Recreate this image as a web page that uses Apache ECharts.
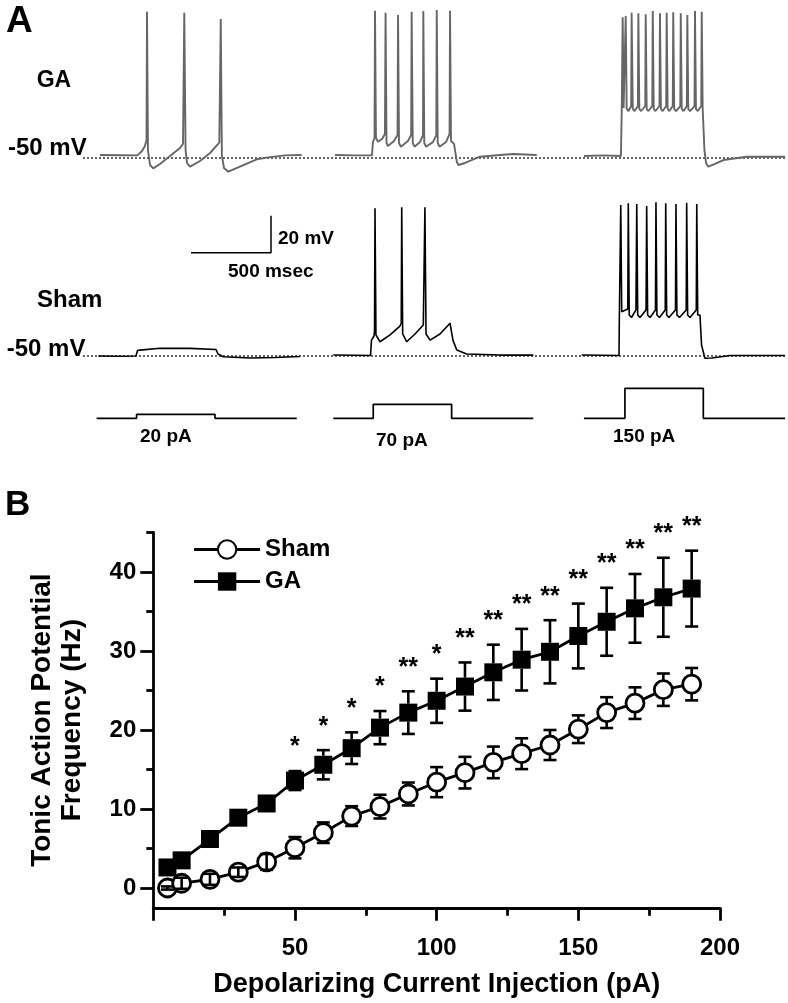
<!DOCTYPE html>
<html><head><meta charset="utf-8">
<script src="https://cdn.jsdelivr.net/npm/echarts@6/dist/echarts.min.js"></script>
<style>html,body{margin:0;padding:0;background:#fff}#c{width:788px;height:1003px}</style>
</head><body><div id="c"></div>
<script>
// ---------- Panel B data ----------
const currents = [5,10,20,30,40,50,60,70,80,90,100,110,120,130,140,150,160,170,180,190];
const shamMean = [0,0.6,1.1,2.0,3.3,5.1,7.0,9.1,10.3,11.9,13.4,14.6,15.9,17.0,18.1,20.1,22.2,23.4,25.1,25.8];
const shamSem  = [0.2,0.7,0.7,0.6,1.0,1.35,1.3,1.25,1.5,1.45,1.9,2.0,2.0,1.95,1.9,1.75,1.95,2.0,2.05,2.05];
const gaMean   = [2.6,3.5,6.2,8.9,10.7,13.6,15.6,17.7,20.3,22.2,23.7,25.5,27.3,28.9,29.9,31.9,33.7,35.4,36.8,37.9];
const gaSem    = [0.5,0.5,0.5,0.6,0.8,1.2,1.85,2.0,2.1,2.7,2.8,3.05,3.5,3.9,4.0,4.1,4.3,4.35,5.0,4.8];
const sigMarks = ['','','','','','*','*','*','*','**','*','**','**','**','**','**','**','**','**','**'];
const xTickLabels = [50,100,150,200];
const yTickLabels = [0,10,20,30,40];
const yMinorTicks = [5,15,25,35,45];

// ---------- Panel A data: [time ms, membrane potential mV] ----------
const gaTrace20 = [[106,-48.4],[230,-48.5],[337,-48.6],[350,-47.8],[369,-46.2],[387,-43.5],[397,-40.3],[400,29.1],[406,-45.7],[419,-53.8],[439,-55.6],[481,-53.2],[544,-48.9],[606,-44.6],[625,-42.4],[633,28.5],[641,-45.7],[650,-52.7],[669,-54.7],[731,-51.6],[794,-47.3],[852,-41.7],[861,25.1],[868,-48.4],[881,-55.4],[908,-57.4],[981,-54.6],[1086,-50.7],[1169,-49.5],[1262,-48.6],[1367,-48.4]];
const gaTrace70 = [[1575,-48.4],[1700,-48.6],[1806,-48.6],[1812,-41.4],[1822,-39.2],[1825,29.6],[1831,-39.2],[1844,-41.2],[1869,-39.7],[1887,-37.0],[1891,28.5],[1897,-41.9],[1906,-43.5],[1944,-40.8],[1966,-37.6],[1969,27.3],[1975,-41.9],[1987,-43.9],[2031,-40.8],[2051,-37.6],[2054,29.1],[2061,-41.9],[2072,-43.9],[2106,-41.4],[2125,-37.6],[2127,29.5],[2133,-41.9],[2144,-43.9],[2187,-41.4],[2208,-37.6],[2211,30.0],[2217,-41.9],[2228,-43.9],[2269,-41.4],[2291,-37.0],[2294,29.6],[2300,-40.8],[2319,-42.4],[2325,-45.7],[2337,-52.2],[2346,-53.8],[2387,-52.7],[2481,-49.3],[2606,-48.4],[2690,-47.8],[2836,-48.4]];
const gaTrace150 = [[3131,-48.9],[3250,-48.6],[3362,-48.9],[3367,-25.1],[3373,26.1],[3379,-23.0],[3386,-22.5],[3392,26.8],[3398,-23.5],[3409,-24.6],[3426,-21.9],[3429,28.5],[3436,-23.5],[3447,-24.6],[3468,-21.9],[3471,28.2],[3477,-23.5],[3488,-24.6],[3514,-21.9],[3517,27.7],[3523,-23.5],[3534,-24.6],[3558,-21.9],[3561,29.5],[3567,-23.5],[3578,-24.6],[3603,-21.9],[3606,28.2],[3612,-23.5],[3623,-24.6],[3645,-21.9],[3648,28.5],[3654,-23.5],[3665,-24.6],[3686,-21.9],[3689,28.8],[3695,-23.5],[3706,-24.6],[3733,-21.9],[3736,28.2],[3742,-23.5],[3753,-24.6],[3774,-21.9],[3777,27.3],[3783,-23.5],[3794,-24.6],[3822,-21.9],[3825,29.5],[3831,-23.5],[3842,-24.6],[3864,-21.9],[3867,29.1],[3873,-23.5],[3878,-24.2],[3884,-45.7],[3894,-52.7],[3908,-54.7],[3950,-53.2],[4002,-51.1],[4148,-49.3],[4388,-49.3]];
const shamTrace20 = [[96,-50.0],[220,-50.1],[331,-50.0],[341,-47.0],[356,-46.8],[481,-45.8],[669,-45.9],[831,-46.5],[844,-48.9],[877,-50.4],[1044,-51.1],[1200,-50.8],[1356,-50.3]];
const shamTrace70 = [[1564,-49.5],[1700,-49.6],[1797,-49.7],[1803,-41.4],[1819,-39.2],[1822,-36.0],[1825,29.8],[1831,-38.6],[1856,-42.3],[1919,-38.6],[1981,-33.8],[1989,-32.2],[1992,30.4],[1998,-38.1],[2023,-42.3],[2075,-38.1],[2127,-33.2],[2137,30.4],[2144,-38.1],[2169,-41.4],[2231,-38.1],[2294,-32.3],[2304,-33.2],[2312,-41.4],[2336,-46.8],[2398,-48.9],[2606,-49.5],[2814,-49.5]];
const shamTrace150 = [[3117,-49.5],[3240,-49.6],[3350,-49.7],[3352,-30.5],[3361,31.6],[3367,-26.1],[3378,-26.8],[3405,-24.6],[3408,32.5],[3414,-27.8],[3428,-29.2],[3456,-25.1],[3461,32.2],[3467,-27.8],[3481,-29.2],[3519,-25.1],[3523,31.1],[3529,-27.8],[3544,-29.2],[3578,-25.1],[3581,33.1],[3587,-27.8],[3603,-29.2],[3639,-25.1],[3642,32.5],[3648,-27.8],[3662,-29.2],[3703,-25.1],[3706,32.2],[3712,-27.8],[3728,-29.2],[3770,-25.1],[3773,32.9],[3779,-27.8],[3794,-29.2],[3833,-25.1],[3836,32.2],[3842,-27.8],[3853,-26.8],[3856,-27.8],[3866,-44.1],[3887,-51.2],[3931,-51.1],[4044,-49.7],[4388,-49.7]];
// stimulus current steps [time ms, pA]
const stim20  = [[85,0],[335,0],[335,20],[825,20],[825,0],[1336,0]];
const stim70  = [[1564,0],[1814,0],[1814,70],[2304,70],[2304,0],[2814,0]];
const stim150 = [[3131,0],[3387,0],[3387,150],[3877,150],[3877,0],[4388,0]];
const restLine = [[0,-50],[4400,-50]];
const scaleBar = [[675,5.8],[1175,5.8],[1175,25.8]];

// ---------- chart ----------
const FONT = '"Liberation Sans", Arial, Helvetica, sans-serif';
const chart = echarts.init(document.getElementById('c'), null, {renderer:'canvas'});

function traceSeries(data, idx, color, width) {
  return {type:'line', data, xAxisIndex:idx, yAxisIndex:idx, showSymbol:false, symbol:'none',
          lineStyle:{color, width}, silent:true, z:3};
}
function dotted(idx) {
  return {type:'line', data:restLine, xAxisIndex:idx, yAxisIndex:idx, showSymbol:false, symbol:'none',
          lineStyle:{color:'#000', width:1.2, type:[2,2]}, silent:true, z:2};
}
function txt(text, x, y, size) {
  return {type:'text', x, y, silent:true,
    style:{text, fill:'#000', font:'bold '+size+'px '+FONT,
           align:'left', verticalAlign:'middle', textAlign:'left', textVerticalAlign:'middle'}};
}

const errData = (means, sems) => currents.map((x,i)=>[x, means[i], sems[i]]);
function errRender(symR) {
  return function(params, api) {
    const x = api.value(0), m = api.value(1), e = api.value(2);
    const c = api.coord([x, m]), t = api.coord([x, m + e]), b = api.coord([x, m - e]);
    const st = {stroke:'#000', lineWidth:2.6, fill:null};
    const hw = 6.5;
    const ch = [];
    if (c[1] - t[1] > symR) {
      ch.push({type:'line', shape:{x1:c[0], y1:t[1], x2:c[0], y2:c[1]-symR}, style:st});
      ch.push({type:'line', shape:{x1:c[0], y1:c[1]+symR, x2:c[0], y2:b[1]}, style:st});
    } else {
      ch.push({type:'line', shape:{x1:c[0], y1:t[1], x2:c[0], y2:b[1]}, style:st});
    }
    ch.push({type:'line', shape:{x1:c[0]-hw, y1:t[1], x2:c[0]+hw, y2:t[1]}, style:st});
    ch.push({type:'line', shape:{x1:c[0]-hw, y1:b[1], x2:c[0]+hw, y2:b[1]}, style:st});
    return {type:'group', children:ch};
  };
}
const sigData = currents.map((x,i)=>[x, gaMean[i] + gaSem[i], i]).filter(d => sigMarks[d[2]]);

const option = {
  animation:false,
  backgroundColor:'#fff',
  grid:[
    {left:83, top:0.75, width:704, height:175.75},
    {left:83, top:198.75, width:704, height:175.75},
    {left:83, top:386.3, width:704, height:34},
    {left:153.3, top:532.5, width:566.7, height:375.25}
  ],
  xAxis:[
    {type:'value', gridIndex:0, min:0, max:4400, show:false},
    {type:'value', gridIndex:1, min:0, max:4400, show:false},
    {type:'value', gridIndex:2, min:0, max:4400, show:false},
    {type:'value', gridIndex:3, min:0, max:200, interval:50,
     axisLine:{show:true, onZero:false, lineStyle:{color:'#000', width:2.8}},
     axisTick:{show:true, length:13, lineStyle:{color:'#000', width:2.8}},
     minorTick:{show:true, splitNumber:2, length:8, lineStyle:{color:'#000', width:2.8}},
     splitLine:{show:false},
     axisLabel:{customValues:xTickLabels, margin:29, color:'#000', fontSize:24, fontWeight:'bold', fontFamily:FONT},
     name:'Depolarizing Current Injection (pA)', nameLocation:'middle', nameGap:63,
     nameTextStyle:{color:'#000', fontSize:27, fontWeight:'bold', fontFamily:FONT}}
  ],
  yAxis:[
    {type:'value', gridIndex:0, min:-60, max:35, show:false},
    {type:'value', gridIndex:1, min:-60, max:35, show:false},
    {type:'value', gridIndex:2, min:-10, max:160, show:false},
    {type:'value', gridIndex:3, min:-2.5, max:45,
     axisLine:{show:true, onZero:false, lineStyle:{color:'#000', width:2.8}},
     axisTick:{show:true, customValues:yTickLabels, length:13, lineStyle:{color:'#000', width:2.8}},
     splitLine:{show:false},
     axisLabel:{customValues:yTickLabels, margin:17, color:'#000', fontSize:24, fontWeight:'bold', fontFamily:FONT},
     name:'Tonic Action Potential\nFrequency (Hz)', nameLocation:'middle', nameGap:66,
     nameTextStyle:{color:'#000', fontSize:28, fontWeight:'bold', fontFamily:FONT, lineHeight:30}},
    {type:'value', gridIndex:3, min:-2.5, max:45, position:'left',
     axisLine:{show:false},
     axisTick:{show:true, customValues:yMinorTicks, length:7, lineStyle:{color:'#000', width:2.8}},
     axisLabel:{show:false}, splitLine:{show:false}}
  ],
  legend:{
    data:['Sham','GA'], orient:'vertical', left:187.7, top:532.5, itemWidth:66, itemHeight:23, itemGap:8,
    lineStyle:{width:2.8, color:'#000'},
    textStyle:{color:'#000', fontSize:24, fontWeight:'bold', fontFamily:FONT}, selectedMode:false
  },
  graphic:[
    txt('A', 6, 22, 37),
    txt('GA', 36.7, 81, 23),
    txt('-50 mV', 8, 148.3, 24),
    txt('Sham', 37, 300, 24),
    txt('-50 mV', 6.7, 349, 24),
    txt('20 mV', 278, 238.5, 19),
    txt('500 msec', 228, 271.7, 19),
    txt('20 pA', 140, 437, 19),
    txt('70 pA', 376, 441, 19),
    txt('150 pA', 613, 437, 19),
    txt('B', 5, 505, 35)
  ],
  series:[
    dotted(0), dotted(1),
    traceSeries(gaTrace20, 0, '#666', 1.9),
    traceSeries(gaTrace70, 0, '#666', 1.9),
    traceSeries(gaTrace150, 0, '#666', 1.9),
    traceSeries(shamTrace20, 1, '#000', 1.6),
    traceSeries(shamTrace70, 1, '#000', 1.6),
    traceSeries(shamTrace150, 1, '#000', 1.6),
    traceSeries(scaleBar, 1, '#000', 1.5),
    traceSeries(stim20, 2, '#000', 1.7),
    traceSeries(stim70, 2, '#000', 1.7),
    traceSeries(stim150, 2, '#000', 1.7),
    {name:'Sham', type:'line', xAxisIndex:3, yAxisIndex:3,
     data:currents.map((x,i)=>[x, shamMean[i]]),
     symbol:'circle', symbolSize:18, showAllSymbol:true,
     itemStyle:{color:'#fff', borderColor:'#000', borderWidth:2.8},
     lineStyle:{color:'#000', width:2.8}, z:5},
    {name:'GA', type:'line', xAxisIndex:3, yAxisIndex:3,
     data:currents.map((x,i)=>[x, gaMean[i]]),
     symbol:'rect', symbolSize:18, showAllSymbol:true,
     itemStyle:{color:'#000'}, lineStyle:{color:'#000', width:2.8}, z:5},
    {type:'custom', xAxisIndex:3, yAxisIndex:3, data:errData(shamMean, shamSem),
     renderItem:errRender(9), z:7, silent:true},
    {type:'custom', xAxisIndex:3, yAxisIndex:3, data:errData(gaMean, gaSem),
     renderItem:errRender(9), z:7, silent:true},
    {type:'custom', xAxisIndex:3, yAxisIndex:3, data:sigData, silent:true, z:8,
     renderItem:function(params, api){
       const p = api.coord([api.value(0), api.value(1)]);
       return {type:'text', x:p[0], y:p[1]-11,
         style:{text:sigMarks[api.value(2)], fill:'#000', font:'bold 25px '+FONT,
                align:'center', verticalAlign:'bottom', textAlign:'center', textVerticalAlign:'bottom'}};
     }}
  ]
};
chart.setOption(option);
</script></body></html>
